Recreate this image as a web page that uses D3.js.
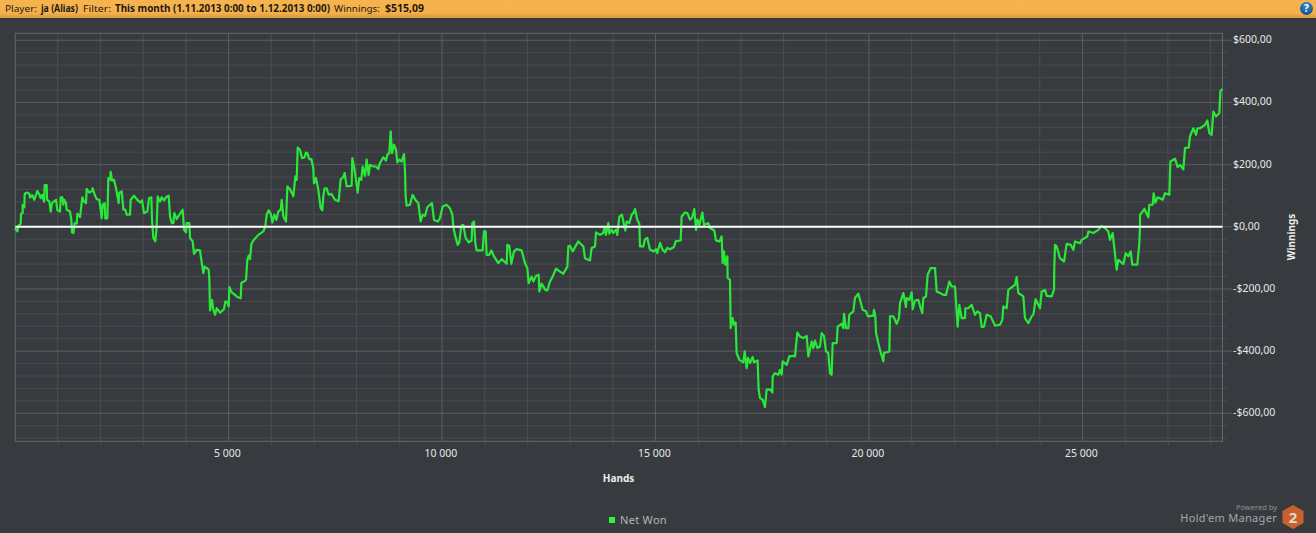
<!DOCTYPE html>
<html><head><meta charset="utf-8">
<script src="https://cdn.jsdelivr.net/npm/d3@7/dist/d3.min.js"></script>
<style>
html,body{margin:0;padding:0;background:#373b3f;overflow:hidden}
svg{display:block}
text{font-family:"Noto Sans","Open Sans",sans-serif}
</style></head><body><svg id="c" width="1316" height="533"></svg>
<script>
const hands=[0,55,78,133,141,180,180,219,227,289,336,352,406,453,523,570,601,633,680,695,742,750,804,836,867,914,961,992,1054,1070,1109,1132,1156,1195,1210,1288,1320,1335,1367,1398,1445,1460,1523,1577,1616,1663,1679,1741,1796,1819,1866,1913,1976,2030,2054,2100,2116,2163,2186,2225,2241,2272,2319,2366,2428,2444,2499,2538,2584,2616,2694,2709,2787,2850,2928,2975,3022,3100,3139,3193,3209,3240,3287,3318,3342,3396,3435,3490,3537,3599,3631,3670,3709,3732,3787,3927,3959,4005,4021,4083,4099,4161,4193,4255,4333,4380,4411,4443,4536,4552,4567,4614,4646,4685,4724,4802,4895,4927,4973,5005,5020,5075,5153,5208,5286,5301,5387,5411,5442,5473,5504,5536,5582,5700,5817,5863,5895,5941,5989,6027,6074,6121,6168,6223,6246,6285,6347,6379,6441,6519,6566,6597,6621,
6674,6721,6784,6815,6846,6893,6940,6986,7002,7049,7104,7158,7197,7221,7252,7299,7346,7408,7494,7580,7627,7689,7720,7767,7884,7900,7947,7986,8025,8064,8111,8142,8197,8236,8282,8314,8392,8454,8509,8548,8626,8688,8720,8766,8798,8829,8876,8923,8954,9001,9055,9110,9133,9149,9172,9250,9313,9375,9446,9500,9547,9602,9656,9766,9813,9906,9953,10016,10109,10187,10242,10265,10304,10367,10406,10453,10500,10554,10625,10695,10710,10750,10781,10812,10952,10984,11023,11046,11109,11155,11218,11319,11397,11515,11530,11577,11624,11686,11749,11866,11944,11999,12030,12100,12139,12201,12264,12280,12334,12420,12467,12530,12592,12670,12764,12842,12936,12959,12998,13060,13193,13271,13310,13349,13427,
13466,13505,13583,13607,13700,13778,13810,13841,13896,13919,13974,14013,14075,14106,14153,14216,14263,14294,14325,14387,14442,14481,14520,14575,14622,14637,14715,14754,14809,14871,14965,15012,15043,15106,15168,15223,15277,15340,15434,15473,15590,15613,15691,15746,15808,15855,15910,15949,15980,16027,16097,16136,16238,16277,16378,16417,16495,16550,16573,16605,16636,16683,16690,16745,16761,16808,16839,16878,16901,16964,17057,17089,17136,17167,17214,17276,17307,17393,17416,17448,17510,17565,17604,17698,17737,17745,17799,17877,17916,17955,17979,18072,18135,18229,18268,18322,18385,18463,18541,18580,18658,18697,18736,18791,18853,18892,18947,18994,19048,19087,19126,19150,19244,19267,19361,19400,19415,19462,19517,19540,19634,19673,19751,19790,19852,19930,19977,20102,20118,20149,20165,20219,20258,
20336,20352,20477,20493,20571,20649,20703,20727,20805,20867,20883,20946,21000,21024,21078,21156,21211,21250,21273,21336,21375,21445,21547,21586,21664,21742,21804,21882,21937,22015,22077,22116,22171,22249,22257,22327,22405,22483,22538,22600,22640,22694,22757,22850,22952,23069,23124,23147,23225,23264,23420,23459,23498,23615,23654,23733,23811,23850,23904,24006,24045,24123,24162,24279,24334,24341,24357,24396,24474,24568,24630,24724,24787,24826,24943,24982,25114,25138,25255,25372,25450,25528,25606,25645,25708,25801,25840,25958,26012,26075,26129,26168,26285,26332,26348,
26348,26411,26450,26543,26567,26645,26668,26707,26762,26879,26934,27035,27059,27168,27230,27285,27363,27402,27488,27519,27597,27660,27691,27753,27871,27925,27972,28027,28066,28128,28206,28230,28269];
const netWon=[-4,-15,3,10,42,44,71,63,106,110,106,94,102,87,115,104,92,103,81,134,134,87,82,49,76,82,87,53,49,95,95,71,87,76,55,49,22,-18,-20,12,10,42,31,95,81,76,122,110,114,124,103,89,87,28,71,76,26,28,157,151,177,149,151,124,76,110,114,55,55,39,39,87,100,89,78,85,44,49,92,95,22,-36,-47,1,98,81,95,85,95,100,33,12,12,44,25,55,-10,-18,12,12,-36,-47,-87,-74,-76,-122,-149,-128,-138,-170,-269,-235,-267,-283,-262,-276,-265,-240,-243,-256,-194,-211,-219,-226,-230,-181,-174,-170,-106,-93,-104,-55,-44,-26,-15,1,39,53,42,14,39,22,49,55,87,33,17,130,121,98,162,151,255,
248,221,224,239,237,218,218,189,140,157,119,60,53,98,124,124,103,106,87,82,153,160,173,130,132,221,189,151,110,157,151,194,164,216,167,199,194,194,186,205,224,213,232,237,307,237,264,248,207,216,210,234,183,98,68,71,103,87,76,17,39,35,63,76,22,17,28,65,71,60,39,1,-26,-58,-50,3,6,-36,-50,-44,12,17,-53,-76,-76,-15,-15,-90,-90,-76,-95,-117,-104,-119,-58,-61,-119,-79,-72,-76,-117,-133,-181,-160,-176,-158,-154,-208,-183,-203,-205,-176,-160,-135,-144,-151,-128,-63,-61,-79,-47,-58,-63,-101,-106,
-108,-68,-63,-18,-26,-20,-1,-26,12,-22,-9,-20,-9,-26,33,39,6,-12,17,12,39,44,57,23,10,-63,-63,-40,-36,-74,-79,-72,-85,-52,-74,-82,-68,-72,-65,-47,-44,33,46,44,23,28,57,-10,23,6,46,6,12,-4,-12,-44,-47,-31,-117,-79,-122,-95,-165,-170,-326,-294,-315,-308,-406,-428,-436,-401,-455,-422,-438,-419,-436,-430,-524,-551,-556,-580,-524,-524,-533,-481,-471,-476,-460,-476,-433,-444,-417,-415,-417,-340,-353,-358,-351,-417,-369,-390,-366,-390,-385,-342,-351,-401,-406,-471,-476,-374,-374,-321,-312,-326,-280,-326,-326,-283,-272,-229,-215,-235,-267,-272,-288,-286,-267,-288,-342,-374,-396,
-433,-406,-401,-288,-288,-312,-294,-246,-213,-258,-229,-235,-211,-265,-237,-235,-262,-278,-229,-224,-154,-133,-133,-208,-213,-219,-219,-176,-192,-192,-321,-251,-294,-294,-262,-262,-251,-283,-272,-278,-323,-321,-283,-288,-318,-315,-299,-256,-262,-203,-187,-162,-213,-224,-294,-310,-288,-283,-233,-262,-208,-203,-222,-224,-203,-128,-58,-63,-101,-112,-55,-58,-74,-47,-53,-42,-31,-15,-20,-10,3,-4,-15,-42,-20,-138,-106,-120,-85,-95,-79,-122,-122,-53,1,
39,49,58,31,71,71,108,78,95,87,108,103,210,219,192,199,185,253,255,291,317,296,317,317,328,342,301,296,371,355,366,435,444];
const xTickValues=[5000,10000,15000,20000,25000];
const xTickLabels=["5 000","10 000","15 000","20 000","25 000"];
const yTickValues=[600,400,200,0,-200,-400,-600];
const yTickLabels=["$600,00","$400,00","$200,00","$0,00","-$200,00","-$400,00","-$600,00"];
const xMinor=d3.range(1000,29000,1000).filter(v=>v%5000);
const yMinor=d3.range(-680,640,40).filter(v=>v%200);
const headerLabels=["Player:","ja (Alias)","Filter:","This month (1.11.2013 0:00 to 1.12.2013 0:00)","Winnings:","$515,09"];

const svg=d3.select("#c");
const defs=svg.append("defs");
const hg=defs.append("linearGradient").attr("id","hdr").attr("x1",0).attr("x2",0).attr("y1",0).attr("y2",1);
hg.append("stop").attr("offset","0").attr("stop-color","#f6b34e");
hg.append("stop").attr("offset","0.7").attr("stop-color","#f5b14b");
hg.append("stop").attr("offset","1").attr("stop-color","#d99a40");
const bg=defs.append("radialGradient").attr("id","help").attr("cx","0.5").attr("cy","0.3").attr("r","0.7");
bg.append("stop").attr("offset","0").attr("stop-color","#3f8fd0");
bg.append("stop").attr("offset","1").attr("stop-color","#0d4f8c");

svg.append("rect").attr("width",1316).attr("height",533).attr("fill","#373b3f");
svg.append("rect").attr("width",1316).attr("height",18).attr("fill","url(#hdr)");
const headerX=[5,41,83,115,334,385], headerW=[32,37,28,215,46,39];
svg.append("g").selectAll("text").data(headerLabels).join("text")
  .attr("x",(d,i)=>headerX[i]).attr("y",12).attr("font-size",9.8)
  .attr("font-weight",(d,i)=>i%2?700:400).attr("fill","#1d1a12")
  .attr("textLength",(d,i)=>headerW[i]).attr("lengthAdjust","spacingAndGlyphs").text(d=>d);
svg.append("circle").attr("cx",1306.5).attr("cy",8.5).attr("r",6.5).attr("fill","url(#help)");
svg.append("text").attr("x",1306.5).attr("y",12).attr("text-anchor","middle").attr("font-size",10).attr("font-weight",700).attr("fill","#fff").text("?");

const L=15.3,R=1222.5,T=33.3,B=441.3;
const x=d3.scaleLinear().domain([0,28280]).range([15,1222.5]);
const y=d3.scaleLinear().domain([-600,600]).range([413.3,40.3]);

svg.append("g").attr("transform",`translate(0,${B})`)
  .call(d3.axisBottom(x).tickValues(xMinor).tickSize(4).tickFormat(""))
  .call(g=>g.select(".domain").remove())
  .call(g=>g.selectAll("line").attr("stroke","#4b4f52"));
svg.append("g").selectAll("line").data(xMinor).join("line")
  .attr("x1",d=>x(d)).attr("x2",d=>x(d)).attr("y1",T).attr("y2",B).attr("stroke","#4a4e51");
svg.append("g").selectAll("line").data(yMinor).join("line")
  .attr("x1",L).attr("x2",R+4.5).attr("y1",d=>y(d)).attr("y2",d=>y(d)).attr("stroke","#474b4e");
svg.append("g").selectAll("line").data(yTickValues).join("line")
  .attr("x1",L).attr("x2",R+9).attr("y1",d=>y(d)).attr("y2",d=>y(d)).attr("stroke","#5b5e61");
svg.append("g").selectAll("line").data(xTickValues).join("line")
  .attr("x1",d=>x(d)).attr("x2",d=>x(d)).attr("y1",T).attr("y2",B).attr("stroke","#5b5e61");
svg.append("rect").attr("x",L).attr("y",T).attr("width",R-L).attr("height",B-T).attr("fill","none").attr("stroke","#64676a");

const xa=svg.append("g").attr("transform",`translate(-1.5,${B})`)
  .call(d3.axisBottom(x).tickValues(xTickValues).tickSize(0).tickPadding(8).tickFormat((d,i)=>xTickLabels[i]));
xa.select(".domain").remove();
xa.selectAll("text").attr("fill","#e6e7e8").attr("font-size",10.5);
const ya=svg.append("g").attr("transform",`translate(${R},-1)`)
  .call(d3.axisRight(y).tickValues(yTickValues).tickSize(0).tickPadding(10.5).tickFormat((d,i)=>yTickLabels[i]));
ya.select(".domain").remove();
ya.selectAll("text").attr("fill","#e6e7e8").attr("font-size",10.5);

const line=d3.line().x((d,i)=>x(hands[i])).y(d=>y(d));
svg.append("path").datum(netWon).attr("d",line).attr("fill","none").attr("stroke","#2ae83a").attr("stroke-width",2.2).attr("stroke-linejoin","round");
svg.append("line").attr("x1",L).attr("x2",R).attr("y1",y(0)).attr("y2",y(0)).attr("stroke","#fff").attr("stroke-width",2);

svg.append("text").attr("x",618.5).attr("y",482).attr("text-anchor","middle").attr("font-size",10).attr("font-weight",700).attr("fill","#eceded").text("Hands");
svg.append("text").attr("transform","translate(1295,237) rotate(-90)").attr("text-anchor","middle").attr("font-size",10).attr("font-weight",700).attr("fill","#eceded").text("Winnings");

svg.append("rect").attr("x",609).attr("y",517).attr("width",6).attr("height",6).attr("fill","#2bf53c");
svg.append("text").attr("x",620).attr("y",524).attr("font-size",11).attr("letter-spacing",0.3).attr("fill","#b4b6b8").text("Net Won");

svg.append("text").attr("x",1277).attr("y",510).attr("text-anchor","end").attr("font-size",7.5).attr("fill","#8f9295").text("Powered by");
svg.append("text").attr("x",1277).attr("y",522).attr("text-anchor","end").attr("font-size",11).attr("letter-spacing",0.3).attr("fill","#a5a7a9").text("Hold'em Manager");
svg.append("polygon").attr("points","1293,505 1303.5,511 1303.5,523 1293,529 1282.5,523 1282.5,511").attr("fill","#c8622c");
svg.append("text").attr("x",1293).attr("y",522.5).attr("text-anchor","middle").attr("font-size",15).attr("font-weight",700).attr("fill","#e8d8cc").text("2");
</script></body></html>
